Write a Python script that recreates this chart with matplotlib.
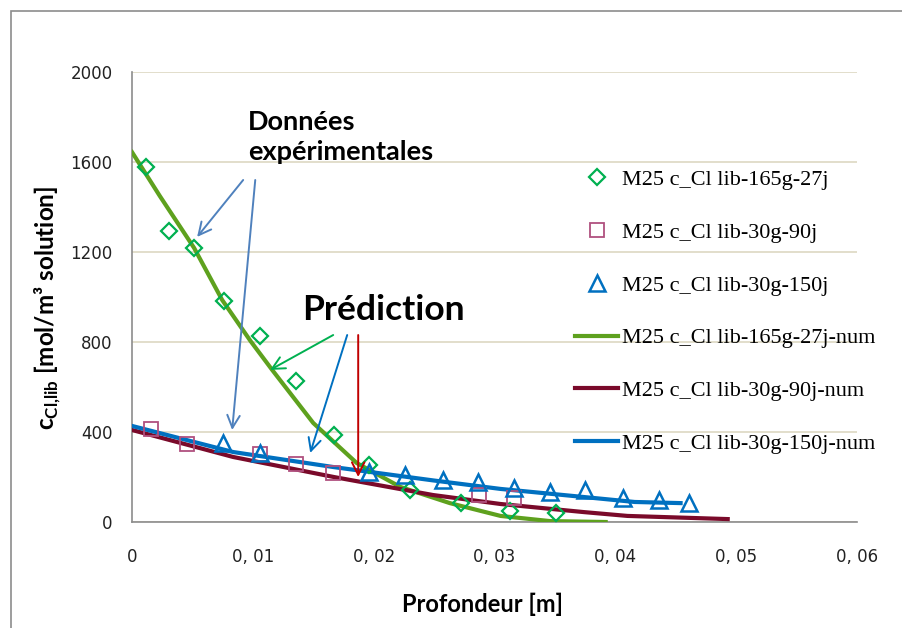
import matplotlib
matplotlib.use("Agg")
import matplotlib.pyplot as plt
import matplotlib.patches as patches
from matplotlib.ticker import FuncFormatter

# ---- data ----
x_165_exp = [0.00116, 0.00307, 0.00514, 0.00762, 0.0106, 0.0136, 0.0167, 0.0196, 0.0230, 0.0272, 0.0313, 0.0351]
y_165_exp = [1578, 1293, 1218, 982, 827, 627, 387, 253, 142, 84, 49, 40]

x_90_exp = [0.00157, 0.00456, 0.0106, 0.0136, 0.0166, 0.0287, 0.0316]
y_90_exp = [413, 347, 302, 258, 218, 118, 107]

x_150_exp = [0.00754, 0.0106, 0.0196, 0.0226, 0.0257, 0.0286, 0.0316, 0.0346, 0.0375, 0.0406, 0.0436, 0.0461]
y_150_exp = [351, 307, 222, 209, 187, 178, 151, 133, 142, 107, 98, 84]

x_165_num = [0.0, 0.0023, 0.00514, 0.00746, 0.0098, 0.0116, 0.0150, 0.0186, 0.0222, 0.0263, 0.0305, 0.0346, 0.0392]
y_165_num = [1644, 1449, 1218, 987, 805, 676, 440, 262, 156, 84, 27, 4, 0]

x_90_num = [0.0, 0.00837, 0.0167, 0.0249, 0.0305, 0.0374, 0.0410, 0.0493]
y_90_num = [409, 289, 200, 120, 80, 44, 27, 13]

x_150_num = [0.0, 0.00837, 0.0167, 0.0249, 0.0305, 0.0374, 0.0416, 0.0454]
y_150_num = [427, 311, 244, 185, 147, 111, 89, 84]

labels = ["M25 c_Cl lib-165g-27j", "M25 c_Cl lib-30g-90j", "M25 c_Cl lib-30g-150j",
          "M25 c_Cl lib-165g-27j-num", "M25 c_Cl lib-30g-90j-num", "M25 c_Cl lib-30g-150j-num"]

# ---- colours ----
C_GREEN_PT = '#00B050'
C_GREEN_LN = '#5EA11E'
C_PINK = '#B0507F'
C_BLUE = '#0070C0'
C_MAROON = '#7A0A2A'
C_GRID = '#DDD8C2'
C_AXIS = '#8C8C8C'

plt.rcParams['font.family'] = ['DejaVu Sans']
plt.rcParams['mathtext.fontset'] = 'custom'
plt.rcParams['mathtext.rm'] = 'Lato'
plt.rcParams['mathtext.bf'] = 'Lato:bold'

W, H = 903, 628
fig = plt.figure(figsize=(W / 100, H / 100), dpi=100)
ax = fig.add_axes([132 / W, 1 - 522 / H, (857 - 132) / W, (522 - 72) / H])

# outer frame (right/bottom edges fall outside the picture)
fig.add_artist(patches.Rectangle((11 / W, -0.05), 1.1, 1 - 11 / H + 0.05,
                                 transform=fig.transFigure, fill=False,
                                 edgecolor=C_AXIS, linewidth=1.2))

ax.plot(x_165_exp, y_165_exp, linestyle='none', marker='D', ms=8.5, mfc='none',
        mec=C_GREEN_PT, mew=1.6, label=labels[0], zorder=4)
ax.plot(x_90_exp, y_90_exp, linestyle='none', marker='s', ms=9.5, mfc='none',
        mec=C_PINK, mew=1.3, label=labels[1], zorder=4)
ax.plot(x_150_exp, y_150_exp, linestyle='none', marker='^', ms=11, mfc='none',
        mec=C_BLUE, mew=1.8, label=labels[2], zorder=5)
ax.plot(x_165_num, y_165_num, color=C_GREEN_LN, lw=3, label=labels[3], zorder=3)
ax.plot(x_90_num, y_90_num, color=C_MAROON, lw=3, label=labels[4], zorder=3)
ax.plot(x_150_num, y_150_num, color=C_BLUE, lw=3, label=labels[5], zorder=3)

ax.set_xlim(0, 0.06)
ax.set_ylim(0, 2000)
ax.set_yticks(range(0, 2001, 400))
ax.set_xticks([0, 0.01, 0.02, 0.03, 0.04, 0.05, 0.06])
ax.xaxis.set_major_formatter(FuncFormatter(lambda v, p: '0' if v == 0 else ('%.2f' % v).replace('.', ', ')))
ax.grid(axis='y', color=C_GRID, lw=1.2)
ax.set_axisbelow(True)
for s in ['top', 'right']:
    ax.spines[s].set_visible(False)
for s in ['left', 'bottom']:
    ax.spines[s].set_color(C_AXIS)
    ax.spines[s].set_linewidth(1.2)
ax.tick_params(length=0, labelsize=12, colors='#222222')
ax.tick_params(axis='x', pad=19)
ax.tick_params(axis='y', pad=14)

ax.set_xlabel('Profondeur [m]', family='Lato', fontweight='bold', fontsize=17)
ax.xaxis.set_label_coords(0.484, -0.158)
ax.set_ylabel(r'c$_{\mathbf{Cl{,}lib}}$ [mol/m³ solution]', family='Lato', fontweight='bold',
              fontsize=17.5)
ax.yaxis.set_label_coords(-0.095, 0.476)

leg = ax.legend(loc='upper left', bbox_to_anchor=(575 / W, 1 - 169.5 / H),
                bbox_transform=fig.transFigure, frameon=False,
                prop={'family': 'Liberation Serif', 'size': 16},
                handlelength=1.95, handletextpad=0.18, labelspacing=1.45,
                borderpad=0, borderaxespad=0)

# annotations
ax.text(0.0096, 1610, 'Données\nexpérimentales', family='Lato', fontweight='bold',
        fontsize=19.5, ha='left', va='baseline', linespacing=1.3)
ax.text(0.0141, 900, 'Prédiction', family='Lato', fontweight='bold',
        fontsize=25.5, ha='left', va='baseline')

def arrow(x0, y0, x1, y1, color):
    ax.annotate('', xy=(x1, y1), xytext=(x0, y0),
                arrowprops=dict(arrowstyle='->,head_length=0.9,head_width=0.45',
                                color=color, lw=1.4, shrinkA=0, shrinkB=0), zorder=6)

arrow(0.0092, 1520, 0.00539, 1267, '#4F81BD')
arrow(0.0102, 1520, 0.00829, 409, '#4F81BD')
arrow(0.01665, 831, 0.01143, 676, '#00B050')
arrow(0.01781, 831, 0.01475, 307, '#0070C0')
arrow(0.01872, 831, 0.01872, 200, '#C00000')

fig.savefig('out.png', dpi=100)
